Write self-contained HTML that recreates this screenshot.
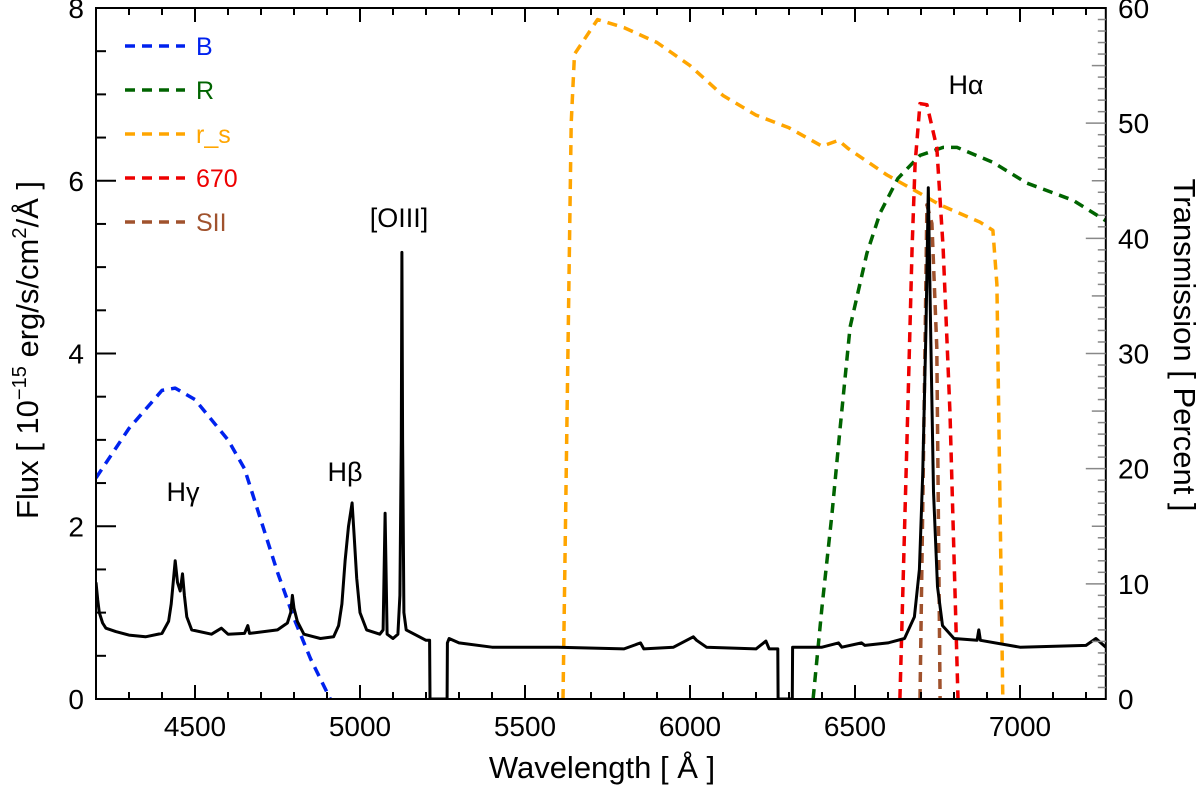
<!DOCTYPE html>
<html><head><meta charset="utf-8"><style>
html,body{margin:0;padding:0;background:#fff;}
svg{display:block;font-family:"Liberation Sans",sans-serif;}
</style></head><body>
<svg id="chart" width="1200" height="791" viewBox="0 0 1200 791" xmlns="http://www.w3.org/2000/svg">
</svg>
<script>
const specW=[4200,4205,4210,4220,4230,4260,4300,4350,4400,4420,4428,4435,4440,4447,4455,4462,4468,4475,4490,4550,4580,4600,4650,4660,4665,4750,4780,4790,4795,4800,4810,4830,4880,4920,4935,4945,4955,4965,4976,4982,4990,5000,5020,5060,5070,5076,5082,5100,5115,5121,5125,5127,5129,5133,5140,5200,5211,5212,5264,5265,5270,5300,5400,5600,5800,5850,5860,5950,6010,6020,6050,6200,6230,6240,6266,6267,6310,6311,6400,6450,6460,6520,6530,6600,6650,6680,6695,6705,6715,6722,6729,6738,6750,6765,6800,6870,6875,6880,7000,7200,7230,7260];
const specF=[1.35,1.15,1.0,0.88,0.82,0.78,0.74,0.72,0.76,0.9,1.1,1.4,1.6,1.35,1.25,1.45,1.2,0.95,0.8,0.75,0.82,0.75,0.76,0.85,0.76,0.8,0.88,1.0,1.2,1.05,0.9,0.75,0.7,0.72,0.85,1.1,1.6,2.0,2.27,1.9,1.4,1.0,0.8,0.75,0.8,2.15,0.75,0.7,0.75,1.2,3.0,5.17,3.0,1.0,0.8,0.68,0.68,0,0,0.65,0.7,0.65,0.6,0.6,0.58,0.65,0.58,0.6,0.72,0.68,0.6,0.58,0.67,0.58,0.58,0,0,0.6,0.6,0.65,0.6,0.65,0.62,0.65,0.7,0.95,1.5,2.6,4.3,5.92,4.3,2.4,1.3,0.85,0.7,0.68,0.8,0.68,0.6,0.62,0.7,0.6];
const bW=[4200,4300,4400,4440,4500,4600,4650,4700,4750,4800,4850,4910];
const bT=[19.2,23.5,26.8,27,26,22.5,20,15.5,11,7,3.5,0];
const rW=[6373,6400,6430,6455,6485,6536,6576,6630,6697,6767,6809,6918,7021,7161,7273];
const rT=[0,8,16,23.6,32.3,38.7,42.2,45.2,47.2,47.9,47.9,46.6,44.8,43.3,41.3];
const rsW=[5615,5640,5650,5720,5800,5900,6000,6100,6200,6300,6400,6450,6479,6597,6697,6758,6879,6918,6930,6948];
const rsT=[0,50,56,59,58.3,57,55,52.4,50.7,49.6,48,48.5,47.8,45.5,43.9,42.9,41.4,40.7,36,0];
const f670W=[6636,6657,6673,6682,6697,6718,6748,6767,6788,6812];
const f670T=[0,21.9,39.2,46.5,51.7,51.6,47.9,39.2,24.8,0];
const siiW=[6697,6712,6718,6733,6748,6758];
const siiT=[0,30.5,42.9,41.3,30.5,0];
const xTicks=[4500,5000,5500,6000,6500,7000];
const yTicks=[0,2,4,6,8];
const tTicks=[0,10,20,30,40,50,60];

const X0=96,PX=0.33,W0=4200,W1=7260,YB=699,YT=8;
const xs=w=>X0+(w-W0)*PX;
const yf=f=>YB-f*(YB-YT)/8;
const yt=t=>YB-t*(YB-YT)/60;
const svg=document.getElementById('chart');
const NS='http://www.w3.org/2000/svg';
function mk(tag,attrs,parent){const e=document.createElementNS(NS,tag);for(const k in attrs)e.setAttribute(k,attrs[k]);(parent||svg).appendChild(e);return e;}
const XR=xs(W1);
const clip=mk('clipPath',{id:'pc'});mk('rect',{x:X0,y:YT,width:XR-X0,height:YB-YT},clip);

function curve(W,V,fy,color,name,dash,wid){
  const d=W.map((w,i)=>(i?'L':'M')+xs(w).toFixed(1)+','+fy(V[i]).toFixed(1)).join('');
  const p=mk('path',{d:d,fill:'none',stroke:color,'stroke-width':wid,'stroke-dasharray':dash,'clip-path':'url(#pc)','stroke-linejoin':'round'});
  
  
}
curve(bW,bT,yt,'#0022ee','filter-b-curve','10,7',3.5);
curve(rW,rT,yt,'#006400','filter-r-curve','10,7',3.5);
curve(rsW,rsT,yt,'#ffa500','filter-rs-curve','10,7',3.5);
curve(f670W,f670T,yt,'#ee0000','filter-670-curve','10,7',3.5);
curve(siiW,siiT,yt,'#a0522d','filter-sii-curve','10,7',3.5);
curve(specW,specF,yf,'#000','spectrum-line','none',3);

const fr=mk('rect',{x:X0,y:YT,width:XR-X0,height:YB-YT,fill:'none',stroke:'#000','stroke-width':2});


for(let w=4300;w<W1;w+=100){const maj=w%500===0,L=maj?14:7;
  mk('line',{x1:xs(w),x2:xs(w),y1:YB,y2:YB-L,stroke:'#000','stroke-width':2});
  mk('line',{x1:xs(w),x2:xs(w),y1:YT,y2:YT+L,stroke:'#000','stroke-width':2});}
xTicks.forEach(w=>{const t=mk('text',{x:xs(w),y:736,'font-size':28,'text-anchor':'middle'});t.textContent=w;
  
  });
for(let f=0.5;f<8;f+=0.5){const maj=f%2===0,L=maj?20:10;
  mk('line',{x1:X0,x2:X0+L,y1:yf(f),y2:yf(f),stroke:'#000','stroke-width':2});}
yTicks.forEach(f=>{const t=mk('text',{x:84,y:yf(f)+10,'font-size':28,'text-anchor':'end'});t.textContent=f;
  
  });
for(let v=1;v<60;v++){const L=v%10===0?20:(v%5===0?14:8);
  mk('line',{x1:XR,x2:XR-L,y1:yt(v),y2:yt(v),stroke:'#888','stroke-width':1.5});}
tTicks.forEach(v=>{const t=mk('text',{x:1118,y:yt(v)+10,'font-size':28,'text-anchor':'start'});t.textContent=v;
  
  });

const legN=['B','R','r_s','670','SII'];
const legC=['#0022ee','#006400','#ffa500','#ee0000','#a0522d'];
legN.forEach((n,i)=>{const y=46+i*44;
  const g=mk('g',{});
  
  
  mk('line',{x1:125,x2:185,y1:y,y2:y,stroke:legC[i],'stroke-width':3.5,'stroke-dasharray':'10,7'},g);
  const t=mk('text',{x:196,y:y+9,'font-size':25,fill:legC[i]},g);t.textContent=n;});
</script>
<svg style="position:absolute;left:0;top:0" width="1200" height="791" font-family="Liberation Sans, sans-serif">
<text x="183" y="501" font-size="27" text-anchor="middle">Hγ</text>
<text x="345" y="481" font-size="27" text-anchor="middle">Hβ</text>
<text x="399" y="227" font-size="27" text-anchor="middle">[OIII]</text>
<text x="966" y="94" font-size="27" text-anchor="middle">Hα</text>
<text x="602" y="778" font-size="31" text-anchor="middle">Wavelength [ Å ]</text>
<text transform="translate(38,350) rotate(-90)" font-size="31" text-anchor="middle">Flux  [ 10<tspan font-size="20" dy="-12">−15</tspan><tspan dy="12"> erg/s/cm</tspan><tspan font-size="20" dy="-12">2</tspan><tspan dy="12">/Å ]</tspan></text>
<text transform="translate(1174,345) rotate(90)" font-size="31" text-anchor="middle">Transmission [ Percent ]</text>
</svg>
</body></html>
